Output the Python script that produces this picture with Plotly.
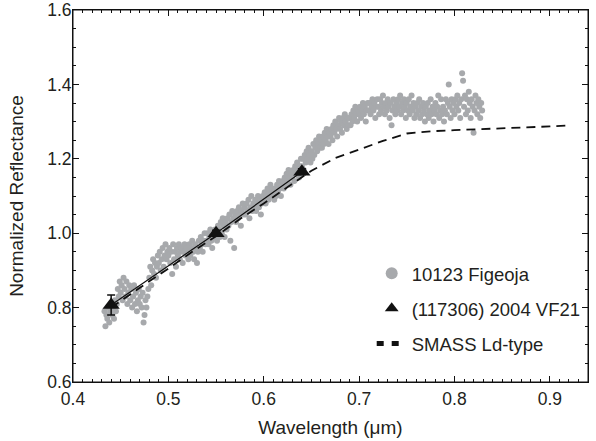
import numpy as np
import plotly.graph_objects as go

# ---- 10123 Figeoja reflectance spectrum, wavelength grid 0.433..0.829 um step 0.001
fig_wl_start = 0.433
fig_wl_step = 0.001
figeoja_refl = [
    0.79, 0.75, 0.78, 0.77, 0.80, 0.76, 0.79,
    0.81, 0.78, 0.80, 0.77, 0.82, 0.79, 0.81, 0.85, 0.83, 0.87,
    0.84, 0.86, 0.82, 0.88, 0.85, 0.83, 0.87, 0.81, 0.84, 0.86,
    0.82, 0.85, 0.80, 0.83, 0.86, 0.81, 0.84, 0.79, 0.82, 0.85,
    0.81, 0.83, 0.80, 0.84, 0.76, 0.78, 0.82, 0.80, 0.83, 0.85,
    0.88, 0.91, 0.86, 0.90, 0.93, 0.89, 0.92, 0.88, 0.91, 0.94,
    0.92, 0.95, 0.90, 0.93, 0.96, 0.91, 0.94, 0.97, 0.93, 0.95,
    0.94, 0.96, 0.92, 0.95, 0.89, 0.97, 0.93, 0.95, 0.91, 0.96,
    0.94, 0.97, 0.93, 0.95, 0.96, 0.92, 0.95, 0.97, 0.94, 0.96,
    0.95, 0.93, 0.97, 0.94, 0.96, 0.98, 0.95, 0.93, 0.97, 0.96,
    0.92, 0.95, 0.98, 0.96, 0.99, 0.97, 0.95, 0.98, 1.00, 0.97,
    0.98, 1.00, 0.97, 0.99, 1.01, 0.98, 0.96, 1.00, 0.99, 1.01,
    1.00, 0.98, 1.02, 1.01, 0.99, 1.03, 1.00, 1.04, 1.02, 0.99,
    1.03, 1.01, 1.04, 1.02, 1.05, 0.98, 1.03, 1.06, 1.04, 0.96,
    1.05, 1.03, 1.06, 1.04, 1.07, 1.05, 1.02, 1.06, 1.08, 1.05,
    1.07, 1.05, 1.08, 1.06, 1.09, 1.04, 1.07, 1.10, 1.06, 1.08,
    1.07, 1.09, 1.06, 1.08, 1.10, 1.07, 1.09, 1.05, 1.08, 1.10,
    1.09, 1.11, 1.08, 1.10, 1.12, 1.09, 1.11, 1.13, 1.10, 1.12,
    1.11, 1.09, 1.12, 1.10, 1.13, 1.11, 1.14, 1.12, 1.10, 1.13,
    1.14, 1.12, 1.15, 1.13, 1.16, 1.14, 1.17, 1.15, 1.13, 1.16,
    1.15, 1.17, 1.14, 1.18, 1.16, 1.19, 1.17, 1.15, 1.18, 1.20,
    1.18, 1.20, 1.17, 1.21, 1.19, 1.22, 1.20, 1.23, 1.21, 1.19,
    1.22, 1.20, 1.24, 1.21, 1.23, 1.25, 1.22, 1.24, 1.26, 1.23,
    1.25, 1.23, 1.26, 1.24, 1.27, 1.25, 1.28, 1.26, 1.24, 1.27,
    1.26, 1.28, 1.25, 1.29, 1.27, 1.30, 1.28, 1.26, 1.29, 1.31,
    1.28, 1.30, 1.27, 1.31, 1.29, 1.32, 1.30, 1.28, 1.31, 1.29,
    1.31, 1.29, 1.32, 1.30, 1.33, 1.31, 1.34, 1.32, 1.30, 1.33,
    1.32, 1.34, 1.31, 1.33, 1.35, 1.32, 1.34, 1.30, 1.33, 1.35,
    1.33, 1.35, 1.32, 1.34, 1.36, 1.33, 1.35, 1.31, 1.34, 1.36,
    1.34, 1.32, 1.36, 1.33, 1.35, 1.37, 1.34, 1.32, 1.35, 1.33,
    1.36, 1.34, 1.31, 1.35, 1.29, 1.33, 1.36, 1.34, 1.32, 1.35,
    1.33, 1.36, 1.34, 1.37, 1.32, 1.35, 1.33, 1.36, 1.34, 1.31,
    1.35, 1.33, 1.36, 1.32, 1.34, 1.37, 1.33, 1.35, 1.31, 1.34,
    1.32, 1.35, 1.33, 1.36, 1.31, 1.34, 1.32, 1.35, 1.33, 1.30,
    1.34, 1.32, 1.35, 1.31, 1.33, 1.36, 1.32, 1.34, 1.30, 1.33,
    1.35, 1.32, 1.34, 1.37, 1.31, 1.33, 1.36, 1.32, 1.34, 1.30,
    1.33, 1.36, 1.32, 1.35, 1.40, 1.34, 1.31, 1.36, 1.33, 1.35,
    1.32, 1.36, 1.34, 1.37, 1.33, 1.35, 1.31, 1.36, 1.43, 1.41,
    1.34, 1.37, 1.32, 1.36, 1.33, 1.38, 1.35, 1.31, 1.36, 1.34,
    1.27, 1.33, 1.37, 1.35, 1.32, 1.36, 1.34, 1.31, 1.35, 1.33,
]
figeoja_wl = np.round(fig_wl_start + fig_wl_step * np.arange(len(figeoja_refl)), 4)

# ---- (117306) 2004 VF21 photometry
vf21_wl = [0.44, 0.55, 0.64]
vf21_refl = [0.807, 1.0, 1.165]
vf21_err = [0.027, 0.008, 0.008]

# ---- SMASS Ld-type mean spectrum
smass_wl = [0.44, 0.45, 0.475, 0.50, 0.525, 0.55, 0.575, 0.60, 0.625, 0.65, 0.675,
            0.70, 0.725, 0.75, 0.775, 0.80, 0.825, 0.85, 0.875, 0.90, 0.92]
smass_refl = [0.80, 0.818, 0.862, 0.905, 0.95, 0.992, 1.038, 1.08, 1.125, 1.168, 1.202,
              1.225, 1.248, 1.268, 1.274, 1.277, 1.279, 1.281, 1.284, 1.287, 1.29]

FONT = "Liberation Sans, Arial, sans-serif"
TXT = "#231f20"
INK = "#111111"

fig = go.Figure()
fig.add_trace(go.Scatter(
    x=figeoja_wl, y=figeoja_refl, mode="markers", name="10123 Figeoja",
    legendgroup="a", legendrank=1,
    marker=dict(color="#a7a9ac", size=6, line=dict(width=0)),
))
fig.add_trace(go.Scatter(
    x=smass_wl, y=smass_refl, mode="lines", showlegend=False,
    legendgroup="c",
    line=dict(color=INK, width=1.8, dash="9px,6px"),
))
# legend entry for SMASS with short thin dashes as in the reference key
fig.add_trace(go.Scatter(
    x=[None], y=[None], mode="lines", name="SMASS Ld-type",
    legendgroup="c", legendrank=3,
    line=dict(color=INK, width=1.0, dash="7px,8px"),
))
fig.add_trace(go.Scatter(
    x=vf21_wl, y=vf21_refl, mode="lines", showlegend=False,
    line=dict(color=INK, width=1.2),
))
fig.add_trace(go.Scatter(
    x=vf21_wl, y=vf21_refl, mode="markers", name="(117306) 2004 VF21",
    legendgroup="b", legendrank=2,
    marker=dict(symbol="triangle-up", color=INK, size=15, line=dict(width=0)),
    error_y=dict(type="data", array=vf21_err, visible=True, color=INK,
                 thickness=1.5, width=4),
))

axis_common = dict(
    automargin=False,
    showline=True, linecolor=INK, linewidth=1, mirror="ticks",
    ticks="inside", ticklen=6, tickwidth=1, tickcolor=INK,
    showgrid=False, zeroline=False,
    tickfont=dict(family=FONT, size=17.5, color=TXT),
    tickformat=".1f", ticklabeloverflow="allow",
)
fig.update_xaxes(
    range=[0.4, 0.94], tick0=0.4, dtick=0.1,
    minor=dict(dtick=0.01, ticks="inside", ticklen=3, tickcolor=INK, tickwidth=1, showgrid=False),
    ticklabelstandoff=1,
    title=dict(text="Wavelength (μm)", font=dict(family=FONT, size=19, color=TXT), standoff=12),
    **axis_common,
)
fig.update_yaxes(
    range=[0.6, 1.6], tick0=0.6, dtick=0.2,
    minor=dict(dtick=0.05, ticks="inside", ticklen=3, tickcolor=INK, tickwidth=1, showgrid=False),
    ticklabelstandoff=-3, ticklabelshift=0,
    title=dict(text="Normalized Reflectance", font=dict(family=FONT, size=19, color=TXT), standoff=18),
    **axis_common,
)
fig.update_layout(
    template="none",
    width=596, height=441,
    margin=dict(l=73, r=8, t=10, b=59, pad=0, autoexpand=False),
    paper_bgcolor="white", plot_bgcolor="white",
    font=dict(family=FONT, color=TXT),
    showlegend=True,
    legend=dict(
        x=0.580, y=0.342, xanchor="left", yanchor="top",
        font=dict(family=FONT, size=18.5, color=TXT),
        bgcolor="rgba(0,0,0,0)", itemsizing="constant", itemwidth=30,
        tracegroupgap=8, traceorder="grouped",
    ),
    # frame around the plotting area (closed box as in the reference)
    shapes=[dict(type="rect", xref="paper", yref="paper", x0=0, x1=1, y0=0, y1=1,
                 line=dict(color=INK, width=1), fillcolor="rgba(0,0,0,0)", layer="above")],
)
# remove the default 8px page margin so the figure sits at the window's top-left corner
fig.write_html("out.html", config={"displayModeBar": False},
               post_script="document.body.style.margin='0';")
